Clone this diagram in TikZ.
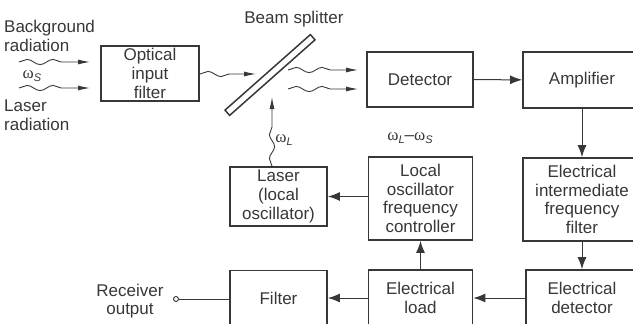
\documentclass[tikz,border=0pt]{standalone}
\usepackage{fontspec}
\setmainfont{Liberation Sans}
\newfontfamily\grk{Liberation Serif}
\usetikzlibrary{arrows.meta,decorations.pathmorphing}
\definecolor{ink}{RGB}{55,55,55}
\newcommand{\om}[1]{{\grk ω}\raisebox{-3pt}{\fontsize{11}{11}\selectfont\itshape #1}}
\begin{document}
\begin{tikzpicture}[x=1pt,y=-1pt,
  font=\fontsize{17}{18.7}\selectfont,
  box/.style={draw=ink, line width=1.8pt, text=ink, align=center, inner sep=0pt},
  lbl/.style={text=ink, inner sep=0pt},
  arr/.style={draw=ink, line width=1.0pt, -{Latex[length=12pt,width=9pt]}},
  wave/.style={draw=ink, line width=0.9pt, decorate,
    decoration={snake, amplitude=2.6pt, segment length=26pt, post length=17pt},
    -{Latex[length=12pt,width=5pt]}}]
\useasboundingbox (0,0) rectangle (633,324);
\clip (0,0) rectangle (633,324);

% boxes
\node[box, minimum width=98pt, minimum height=55pt] (optical) at (150,73.5) {Optical\\input\\filter};
\node[box, minimum width=106pt, minimum height=55pt] (detector) at (420,79.5) {Detector};
\node[box, minimum width=118pt, minimum height=56pt] (amplifier) at (582,80) {Amplifier};
\node[box, minimum width=118pt, minimum height=83pt] (iff) at (582,199.5) {Electrical\\intermediate\\frequency\\filter};
\node[box, minimum width=112pt, minimum height=56pt] (edet) at (582,298) {Electrical\\detector};
\node[box, minimum width=104pt, minimum height=56pt] (load) at (420.5,298) {Electrical\\load};
\node[box, minimum width=97pt, minimum height=56pt] (filter) at (278.5,298.5) {Filter};
\node[box, minimum width=104pt, minimum height=83pt] (loc) at (420.5,198.5) {Local\\oscillator\\frequency\\controller};
\node[box, minimum width=97pt, minimum height=59pt] (laser) at (278.5,196.5) {Laser\\(local\\oscillator)};

% beam splitter
\node[draw=ink, line width=1.5pt, minimum width=114pt, minimum height=7pt, inner sep=0pt, rotate=41.5] (splitter) at (270,75) {};

% labels
\node[lbl, align=left, anchor=west] (bg) at (4,36) {Background\\radiation};
\node[lbl, align=left, anchor=west] (lr) at (4,115) {Laser\\radiation};
\node[lbl] (oms) at (32,76) {\om{S}};
\node[lbl] (bs) at (294,19) {Beam splitter};
\node[lbl] (oml) at (284,140) {\om{L}};
\node[lbl] (omd) at (410,138) {\om{L}–\om{S}};
\node[lbl, align=center] (recv) at (130,301) {Receiver\\output};
\node[draw=ink, line width=0.9pt, circle, minimum size=5pt, inner sep=0pt] (out) at (176,299) {};

% wave coordinates
\coordinate (w1s) at (19,62);  \coordinate (w1e) at (90,62);
\coordinate (w2s) at (19,88);  \coordinate (w2e) at (90,88);
\coordinate (w3e) at (256,74);
\coordinate (w4s) at (288,70); \coordinate (w4e) at (358,70);
\coordinate (w5s) at (288,89); \coordinate (w5e) at (358,89);
\coordinate (w6e) at (272,97);

\draw[wave] (w1s) -- (w1e);
\draw[wave] (w2s) -- (w2e);
\draw[wave] (optical.east |- w3e) -- (w3e);
\draw[wave] (w4s) -- (w4e);
\draw[wave] (w5s) -- (w5e);
\draw[wave, decoration={snake, amplitude=2.6pt, segment length=24pt, post length=22pt}] (laser.north -| w6e) -- (w6e);

% connectors
\draw[arr] (detector) -- (amplifier);
\draw[arr] (amplifier) -- (iff);
\draw[arr] (iff) -- (edet);
\draw[arr] (edet) -- (load);
\draw[arr] (load.west) -- (filter.east |- load.west);
\draw[arr] (load) -- (loc);
\draw[arr] (loc.west |- laser.east) -- (laser.east);
\draw[draw=ink, line width=1.0pt] (out) -- (filter.west |- out);
\end{tikzpicture}
\end{document}
